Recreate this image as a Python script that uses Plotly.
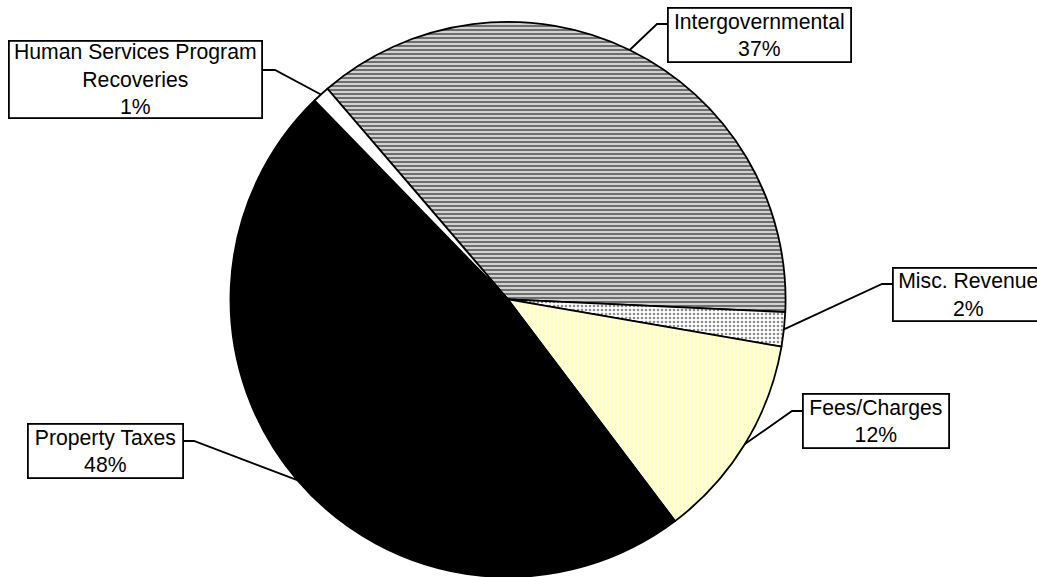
import math
import plotly.graph_objects as go

# ---------------- data ----------------
labels = ["Intergovernmental", "Misc. Revenue", "Fees/Charges", "Property Taxes",
          "Human Services Program Recoveries"]
values = [37, 2, 12, 48, 1]
label_lines = ["Intergovernmental", "Misc. Revenue", "Fees/Charges", "Property Taxes",
               "Human Services Program<br>Recoveries"]

# ---------------- styles ----------------
fill_colors = ["#ffffff", "#ffffff", "#ffffc8", "#000000", "#ffffff"]
pat_shapes = ["-", ".", "|", "", ""]
pat_fg = ["#6e6e6e", "#8c8c8c", "#ffffee", "#000000", "#ffffff"]
pat_bg = ["#f0f0f0", "#ffffff", "#ffffb8", "#000000", "#ffffff"]
pat_size = [4, 4, 4, 4, 4]
pat_solid = [0.62, 0.35, 0.45, 0.5, 0.5]

W, H = 1037, 577
dom_x = [0.2218, 0.758]
dom_y = [0.0, 0.962]
rotation = -40.6

# label boxes (pixel layout): center x, center y, width, height, leader start, elbow x
boxes = [
    dict(cx=759.5, cy=35, w=185, h=56, sx=667, sy=24, ex=657),
    dict(cx=968, cy=294.5, w=153, h=55, sx=892, sy=284, ex=882),
    dict(cx=876, cy=421, w=148, h=56, sx=802, sy=411, ex=792),
    dict(cx=105.5, cy=451, w=157, h=56, sx=184, sy=441, ex=194),
    dict(cx=135.5, cy=79.5, w=255, h=79, sx=263, sy=70, ex=275),
]

fig = go.Figure(go.Pie(
    labels=labels,
    values=values,
    sort=False,
    direction="clockwise",
    rotation=rotation,
    textinfo="none",
    hoverinfo="label+percent",
    domain=dict(x=dom_x, y=dom_y),
    marker=dict(
        colors=fill_colors,
        line=dict(color="#000000", width=1.8),
        pattern=dict(shape=pat_shapes, fgcolor=pat_fg, bgcolor=pat_bg,
                     size=pat_size, solidity=pat_solid, fillmode="replace"),
    ),
    showlegend=False,
))

# pie geometry as plotly lays it out
pcx = W * (dom_x[0] + dom_x[1]) / 2
pcy = H * (1 - (dom_y[0] + dom_y[1]) / 2)
R = min(W * (dom_x[1] - dom_x[0]), H * (dom_y[1] - dom_y[0])) / 2

total = sum(values)
cum = 0
annotations = []
shapes = []
for i, v in enumerate(values):
    mid = math.radians(rotation + 360 * (cum + v / 2) / total)
    cum += v
    px = pcx + R * math.sin(mid)
    py = pcy - R * math.cos(mid)
    b = boxes[i]
    pct = round(100 * v / total)
    annotations.append(dict(
        x=b["cx"] / W, y=1 - b["cy"] / H, xref="paper", yref="paper",
        xanchor="center", yanchor="middle",
        text=f"{label_lines[i]}<br>{pct}%", showarrow=False,
        font=dict(family="Arial, Liberation Sans, sans-serif", size=21.2, color="#000000"),
        align="center", bgcolor="#ffffff", bordercolor="#000000", borderwidth=1.8,
        borderpad=0, width=b["w"] - 4, height=b["h"] - 4,
    ))
    path = (f"M {b['sx']/W} {1-b['sy']/H} L {b['ex']/W} {1-b['sy']/H} "
            f"L {px/W} {1-py/H}")
    shapes.append(dict(type="path", path=path, xref="paper", yref="paper",
                       line=dict(color="#000000", width=1.8)))

fig.update_layout(
    width=W, height=H, autosize=False,
    margin=dict(l=0, r=0, t=0, b=0),
    paper_bgcolor="#ffffff", plot_bgcolor="#ffffff",
    annotations=annotations, shapes=shapes,
)

fig.write_html("out.html", config={"displayModeBar": False},
               post_script="document.body.style.margin='0';document.body.style.overflow='hidden';")
